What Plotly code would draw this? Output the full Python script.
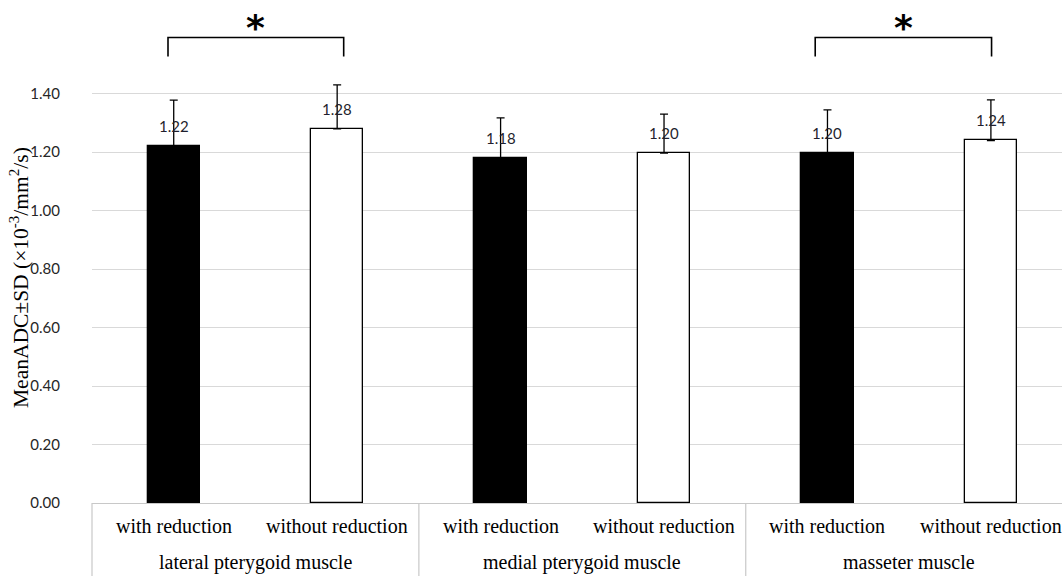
import plotly.graph_objects as go

# ---- data ----
groups = ["lateral pterygoid muscle", "medial pterygoid muscle", "masseter muscle"]
conditions = ["with reduction", "without reduction"]
means = [1.22, 1.28, 1.18, 1.197, 1.197, 1.24]
sds = [0.158, 0.150, 0.137, 0.133, 0.148, 0.139]
value_labels = ["1.22", "1.28", "1.18", "1.20", "1.20", "1.24"]
y_ticks = [0.0, 0.2, 0.4, 0.6, 0.8, 1.0, 1.2, 1.4]
significant_pairs = [(0, 1), (4, 5)]

# ---- style ----
W, H = 1062, 576
ML, MR, MT, MB = 92, 0, 6, 73
XMIN, XMAX = -0.5, 5.435
YMAX = 1.70
SERIF = "Liberation Serif"
SANS = "Lato"
bar_fill = ["#000000" if i % 2 == 0 else "#ffffff" for i in range(len(means))]
xpos = list(range(len(means)))

fig = go.Figure()
fig.add_trace(go.Bar(
    x=xpos, y=means, width=0.32,
    marker=dict(color=bar_fill, line=dict(color="#000000", width=1.3)),
    error_y=dict(type="data", symmetric=False, array=sds, arrayminus=[0] * len(sds),
                 color="#000000", thickness=1.3, width=4),
    hoverinfo="skip", showlegend=False,
))

annotations = []
# value labels
for xi, m, lab in zip(xpos, means, value_labels):
    annotations.append(dict(x=xi, y=m, xref="x", yref="y", text=lab, showarrow=False,
                            xanchor="center", yanchor="middle", yshift=20,
                            font=dict(family=SANS, size=15, color="#1f1f2e")))

# category labels
def xpaper(v):
    return (v - XMIN) / (XMAX - XMIN)

for i, g in enumerate(groups):
    for j, c in enumerate(conditions):
        k = i * 2 + j
        annotations.append(dict(x=xpaper(k), y=0, xref="paper", yref="paper", text=c,
                                showarrow=False, xanchor="center", yanchor="middle", yshift=-23,
                                font=dict(family=SERIF, size=20, color="#000000")))
    annotations.append(dict(x=xpaper(2 * i + 0.5), y=0, xref="paper", yref="paper", text=g,
                            showarrow=False, xanchor="center", yanchor="middle", yshift=-59,
                            font=dict(family=SERIF, size=20, color="#000000")))

# y title
annotations.append(dict(x=0, y=(503 - 278) / (H - MT - MB), xref="paper", yref="paper",
                        text="MeanADC±SD (×10<sup>-3</sup>/mm<sup>2</sup>/s)",
                        textangle=-90, showarrow=False, xanchor="center", yanchor="middle",
                        xshift=-73,
                        font=dict(family=SERIF, size=21.5, color="#000000")))

shapes = []
# group dividers below axis
for i in range(len(groups) + 1):
    xp = xpaper(2 * i - 0.5)
    if xp <= 1.0:
        shapes.append(dict(type="line", xref="paper", yref="paper", x0=xp, x1=xp,
                           y0=0, y1=-(MB + 5) / (H - MT - MB),
                           line=dict(color="#c8c8c8", width=1.2)))

# significance brackets
bracket_off = [(-0.035, 0.04), (-0.075, 0.004)]
for (a, b), (oa, ob) in zip(significant_pairs, bracket_off):
    xa, xb = a + oa, b + ob
    shapes.append(dict(type="path", xref="x", yref="y",
                       path=f"M {xa},1.527 L {xa},1.592 L {xb},1.592 L {xb},1.527",
                       line=dict(color="#000000", width=1.6)))
    annotations.append(dict(x=(xa + xb) / 2, y=1.628, xref="x", yref="y", text="<b>*</b>",
                            showarrow=False, xanchor="center", yanchor="middle",
                            font=dict(family="DejaVu Sans", size=36, color="#000000")))

fig.update_layout(
    width=W, height=H,
    margin=dict(l=ML, r=MR, t=MT, b=MB),
    paper_bgcolor="#ffffff", plot_bgcolor="#ffffff",
    xaxis=dict(range=[XMIN, XMAX], showticklabels=False, showgrid=False, zeroline=False,
               showline=True, linecolor="#c8c8c8", linewidth=1.2, ticks=""),
    yaxis=dict(range=[0, YMAX], tickvals=y_ticks, ticktext=[f"{v:.2f}" for v in y_ticks],
               showgrid=True, gridcolor="#d9d9d9", gridwidth=1, zeroline=False,
               showline=False, ticks="outside", ticklen=28, tickcolor="rgba(0,0,0,0)",
               tickfont=dict(family=SANS, size=15, color="#262626")),
    annotations=annotations, shapes=shapes, bargap=0,
)

fig.write_html("out.html", config={"displayModeBar": False},
               post_script="document.body.style.margin='0';document.body.style.overflow='hidden';")
